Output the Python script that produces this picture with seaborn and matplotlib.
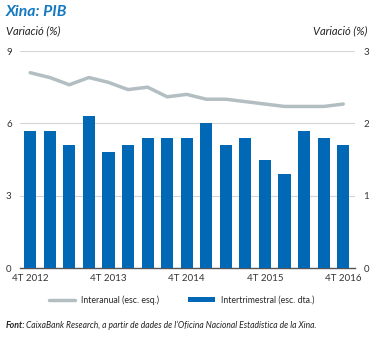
import numpy as np
import matplotlib
matplotlib.use("Agg")
import matplotlib.pyplot as plt
from matplotlib.lines import Line2D
from matplotlib.patches import Patch
import seaborn as sns

quarters = ["4T 2012", "1T 2013", "2T 2013", "3T 2013", "4T 2013", "1T 2014", "2T 2014",
            "3T 2014", "4T 2014", "1T 2015", "2T 2015", "3T 2015", "4T 2015", "1T 2016",
            "2T 2016", "3T 2016", "4T 2016"]
interanual = [8.1, 7.9, 7.6, 7.9, 7.7, 7.4, 7.5, 7.1, 7.2, 7.0, 7.0, 6.9, 6.8, 6.7, 6.7, 6.7, 6.8]
intertrimestral = [1.9, 1.9, 1.7, 2.1, 1.6, 1.7, 1.8, 1.8, 1.8, 2.0, 1.7, 1.8, 1.5, 1.3, 1.9, 1.8, 1.7]
left_ticks = [0, 3, 6, 9]
right_ticks = [0, 1, 2, 3]
shown_labels = ["4T 2012", "4T 2013", "4T 2014", "4T 2015", "4T 2016"]

sns.set_style("white")
plt.rcParams['font.family'] = ['Lato', 'DejaVu Sans']

BLUE = "#0068b4"
GREY = "#b3bec2"
TITLE_BLUE = "#1479c0"

fig = plt.figure(figsize=(3.75, 3.38), dpi=100)
ax = fig.add_axes([20/375, 1-268/338, 335/375, 217/338])
ax2 = ax.twinx()

pos = np.arange(len(quarters))

sns.barplot(x=pos, y=intertrimestral, ax=ax2, native_scale=True, color=BLUE,
            width=0.62, saturation=1, edgecolor="none", linewidth=0)
sns.lineplot(x=pos, y=interanual, ax=ax, color=GREY, linewidth=2.5)

ax.set_ylim(0, 9)
ax2.set_ylim(0, 3)
ax.set_xlim(-0.52, 16.6)
ax.set_yticks(left_ticks)
ax2.set_yticks(right_ticks)
ax.set_yticklabels([str(t) for t in left_ticks])
ax2.set_yticklabels([str(t) for t in right_ticks])

idx = [quarters.index(l) for l in shown_labels]
ax.set_xticks(idx)
ax.set_xticklabels(shown_labels)
ax.set_xticks([-0.5, 3.5, 7.5, 11.5, 15.5], minor=True)

for a in (ax, ax2):
    for s in a.spines.values():
        s.set_visible(False)
    a.set_xlabel("")
    a.set_ylabel("")
ax.spines['bottom'].set_visible(True)
ax.spines['bottom'].set_color("#555555")
ax.spines['bottom'].set_linewidth(1.0)

ax.grid(axis='y', color="#d5d5d5", linewidth=0.8)
ax.set_axisbelow(True)
ax.tick_params(axis='y', length=0, pad=6, labelsize=7, colors="#333333")
ax2.tick_params(axis='y', length=0, pad=6, labelsize=7, colors="#333333")
ax.tick_params(axis='x', which='major', length=0, pad=4, labelsize=7, colors="#333333")
ax.tick_params(axis='x', which='minor', length=3, width=0.8, color="#555555", direction='out')
ax.patch.set_visible(False)

fig.text(6/375, 1-12/338, "Xina: PIB", fontsize=11.3, fontweight='bold', style='italic',
         color=TITLE_BLUE, va='center', ha='left')
fig.text(6/375, 1-31/338, "Variació (%)", fontsize=8, style='italic', color="#222222",
         va='center', ha='left')
fig.text(367/375, 1-31/338, "Variació (%)", fontsize=8, style='italic', color="#222222",
         va='center', ha='right')

handles = [Line2D([0], [0], color=GREY, linewidth=2.5),
           Patch(facecolor=BLUE, edgecolor="none")]
fig.legend(handles, ["Interanual (esc. esq.)", "Intertrimestral (esc. dta.)"],
           loc='center left', bbox_to_anchor=(49/375, 1-300/338), ncol=2, frameon=False,
           fontsize=6.3, handlelength=3.0, handleheight=0.5, columnspacing=3.3,
           handletextpad=0.7, borderpad=0, borderaxespad=0)

fig.text(6/375, 1-325/338, "Font:", fontsize=6.3, fontweight='bold', style='italic',
         color="#222222", va='center', ha='left')
fig.text(26/375, 1-325/338,
         "CaixaBank Research, a partir de dades de l’Oficina Nacional Estadística de la Xina.",
         fontsize=6.15, style='italic', color="#222222", va='center', ha='left')

fig.savefig("out.png", dpi=100)
